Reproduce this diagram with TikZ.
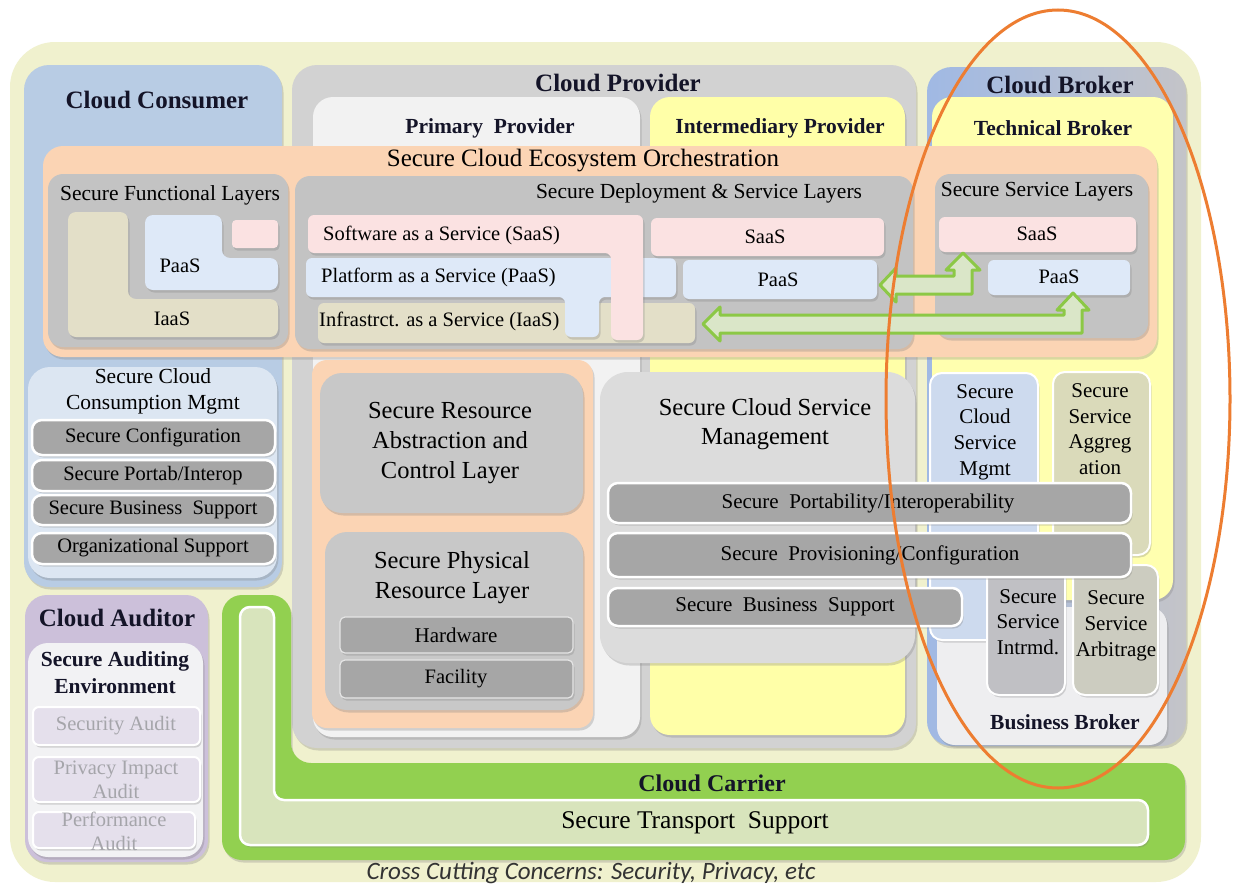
\documentclass[tikz,border=0pt]{standalone}
\usepackage{fontspec}
\setmainfont{Liberation Serif}
\newfontfamily\carlito{Carlito}
\usetikzlibrary{shadows}
\definecolor{bgy}{RGB}{240,241,206}
\definecolor{consblue}{RGB}{184,204,228}
\definecolor{provgrey}{RGB}{210,210,210}
\definecolor{brokblue}{RGB}{160,185,228}
\definecolor{brokgrey}{RGB}{196,196,200}
\definecolor{primw}{RGB}{242,242,242}
\definecolor{intyel}{RGB}{255,255,168}
\definecolor{tbyel}{RGB}{255,255,175}
\definecolor{bbgrey}{RGB}{238,238,240}
\definecolor{peach}{RGB}{251,212,180}
\definecolor{laygrey}{RGB}{195,195,195}
\definecolor{tanc}{RGB}{227,223,200}
\definecolor{ltblue}{RGB}{222,233,248}
\definecolor{pinkc}{RGB}{251,226,226}
\definecolor{ltbluetwo}{RGB}{220,230,242}
\definecolor{bargrey}{RGB}{166,166,166}
\definecolor{absgrey}{RGB}{200,200,200}
\definecolor{csmgrey}{RGB}{220,220,220}
\definecolor{ltbluethree}{RGB}{205,218,238}
\definecolor{olivec}{RGB}{218,218,186}
\definecolor{intrgrey}{RGB}{192,192,196}
\definecolor{arbgrey}{RGB}{204,204,192}
\definecolor{audpurple}{RGB}{204,192,218}
\definecolor{audwhite}{RGB}{242,242,244}
\definecolor{audlav}{RGB}{229,224,236}
\definecolor{audtext}{RGB}{165,165,170}
\definecolor{carrgreen}{RGB}{146,208,80}
\definecolor{transp}{RGB}{216,228,188}
\definecolor{arrfill}{RGB}{218,230,200}
\definecolor{arrgreen}{RGB}{140,200,70}
\definecolor{ellor}{RGB}{237,125,49}
\definecolor{ttlc}{RGB}{20,20,40}
\begin{document}
\begin{tikzpicture}[x=1pt,y=-1pt,
  shd/.style={drop shadow={shadow xshift=1.5pt,shadow yshift=-2.5pt,opacity=0.3}},
  sbar/.style={fill=bargrey,draw=white,line width=2.5pt,rounded corners=10pt,shd},
  hbar/.style={fill=bargrey,draw=white!80!gray,line width=1.2pt,rounded corners=5pt,shd},
  bbox/.style={draw=white,line width=2pt,rounded corners=12pt,shd},
  abox/.style={fill=audlav,draw=white,line width=2pt,rounded corners=6pt,shd},
  arr/.style={fill=arrfill,draw=arrgreen,line width=3pt,line join=round},
  txt/.style={font=\fontsize{20.5}{24}\selectfont,inner sep=0pt,align=center},
  ttl/.style={font=\fontsize{25}{28}\selectfont\bfseries,text=ttlc,inner sep=0pt,align=center},
  subttl/.style={font=\fontsize{21.5}{27}\selectfont\bfseries,text=ttlc,inner sep=0pt,align=center},
  hdr/.style={font=\fontsize{21.5}{26}\selectfont,inner sep=0pt,align=center},
  big/.style={font=\fontsize{24.5}{30}\selectfont,inner sep=0pt,align=center},
  brk/.style={font=\fontsize{21}{25.7}\selectfont,inner sep=0pt,align=center},
  aud/.style={font=\fontsize{20.5}{24}\selectfont,text=audtext,inner sep=0pt,align=center}]
\fill[white] (0,0) rectangle (1235,886);
\useasboundingbox (0,0) rectangle (1235,886);
\fill[bgy,rounded corners=45pt] (10,42) rectangle (1201,882);
% main actors
\path[fill=consblue,rounded corners=25pt,shd] (24,65) rectangle (282,587);
\path[fill=provgrey,rounded corners=25pt,shd] (292,65) rectangle (916,748);
\path[left color=brokblue,right color=brokgrey,rounded corners=25pt,shd] (927,67) rectangle (1186,746);
\path[fill=primw,rounded corners=20pt,shd] (313,97) rectangle (640,737);
\path[fill=intyel,rounded corners=20pt,shd] (650,97) rectangle (905,735);
\path[fill=tbyel,rounded corners=20pt,shd] (932,97) rectangle (1173,600);
\path[fill=bbgrey,rounded corners=18pt,shd] (937,607) rectangle (1167,745);
\node[ttl] (cc) at (157,100) {Cloud Consumer};
\node[ttl] (cp) at (618,83) {Cloud Provider};
\node[subttl] (pp) at (490,128) {Primary~ Provider};
\node[subttl] (ip) at (780,128) {Intermediary Provider};
\node[ttl] (cb) at (1060,85) {Cloud Broker};
\node[subttl] (tbk) at (1053,128) {Technical Broker};
\node[subttl] (bb) at (1065,722) {Business Broker};
% orchestration
\path[fill=peach,rounded corners=20pt,shd] (43,146) rectangle (1157,357);
\node[font=\fontsize{25}{28}\selectfont,inner sep=0pt] (orch) at (583,161) {Secure Cloud Ecosystem Orchestration};
% functional layers
\path[fill=laygrey,rounded corners=15pt,shd] (48,174) rectangle (288,347);
\path[fill=tanc,rounded corners=8pt,shd] (68,212) -- (128,212) -- (128,299) -- (278,299) -- (278,337) -- (68,337) -- cycle;
\path[fill=ltblue,rounded corners=8pt,shd] (145,215) -- (222,215) -- (222,258) -- (278,258) -- (278,290) -- (145,290) -- cycle;
\path[fill=pinkc,rounded corners=4pt,shd] (232,220) rectangle (278,248);
\node[hdr] (sfl) at (170,195) {Secure Functional Layers};
\node[txt] (paasa) at (180,266) {PaaS};
\node[txt] (iaasa) at (172,319) {IaaS};
% deployment
\path[fill=laygrey,rounded corners=15pt,shd] (295,176) rectangle (913,349);
\path[fill=tanc,rounded corners=6pt,shd] (318,303) rectangle (695,343);
\path[fill=ltblue,rounded corners=6pt,shd] (306,258) -- (676,258) -- (676,297) -- (599,297) -- (599,337) -- (565,337) -- (565,297) -- (306,297) -- cycle;
\path[fill=pinkc,rounded corners=6pt,shd] (308,215) -- (643,215) -- (643,340) -- (611,340) -- (611,253) -- (308,253) -- cycle;
\path[fill=pinkc,rounded corners=6pt,shd] (651,218) rectangle (884,256);
\path[fill=ltblue,rounded corners=6pt,shd] (683,260) rectangle (877,299);
\node[hdr] (sdsl) at (699,193) {Secure Deployment \& Service Layers};
\node[txt,anchor=west] (saasl) at (323,235) {Software as a Service (SaaS)};
\node[txt,anchor=west] (paasl) at (321,277) {Platform as a Service (PaaS)};
\node[txt,anchor=west] (iaasl) at (319,321) {Infrastrct. as a Service (IaaS)};
\node[txt] (saasb) at (765,237) {SaaS};
\node[txt] (paasb) at (778,280) {PaaS};
% service layers
\path[fill=laygrey,rounded corners=15pt,shd] (935,174) rectangle (1148,338);
\path[fill=pinkc,rounded corners=6pt,shd] (939,217) rectangle (1136,252);
\path[fill=ltblue,rounded corners=6pt,shd] (988,260) rectangle (1130,295);
\node[hdr] (ssl) at (1037,192) {Secure Service Layers};
\node[txt] (saasc) at (1037,234) {SaaS};
\node[txt] (paasc) at (1059,277) {PaaS};
% arrows
\path[arr] (880,285) -- (896,268) -- (896,276) -- (954,276) -- (954,270) -- (946,270) -- (963,253) -- (980,270) -- (972,270) -- (972,294) -- (896,294) -- (896,302) -- cycle;
\path[arr] (703,324) -- (720,307) -- (720,315) -- (1064,315) -- (1064,310) -- (1057,310) -- (1073,293) -- (1089,310) -- (1082,310) -- (1082,333) -- (720,333) -- (720,341) -- cycle;
% consumption mgmt
\path[fill=ltbluetwo,rounded corners=22pt,shd] (28,367) rectangle (277,578);
\node[hdr] (sccm) at (153,391) {Secure Cloud\\Consumption Mgmt};
\path[sbar] (32,420) rectangle (275,455);
\path[sbar] (32,460) rectangle (275,491);
\path[sbar] (32,495) rectangle (275,525);
\path[sbar] (32,533) rectangle (275,564);
\node[txt] (scfg) at (153,437) {Secure Configuration};
\node[txt] (spia) at (153,476) {Secure Portab/Interop};
\node[txt] (sbsa) at (153,510) {Secure Business~ Support};
\node[txt] (orgs) at (153,548) {Organizational Support};
% primary lower
\path[fill=peach,rounded corners=15pt,shd] (312,360) rectangle (593,728);
\path[fill=absgrey,rounded corners=22pt,shd] (320,373) rectangle (583,513);
\path[fill=absgrey,rounded corners=22pt,shd] (325,532) rectangle (583,710);
\path[hbar] (340,617) rectangle (573,653);
\path[hbar] (340,660) rectangle (573,698);
\node[big] (srac) at (450,443) {Secure Resource\\Abstraction and\\Control Layer};
\node[big] (sprl) at (452,578) {Secure Physical\\Resource Layer};
\node[txt,font=\fontsize{21}{24}\selectfont] (hw) at (456,635) {Hardware};
\node[txt] (fac) at (456,679) {Facility};
% cloud service management
\path[fill=csmgrey,rounded corners=28pt,shd] (600,372) rectangle (915,663);
\node[big,font=\fontsize{24.5}{29}\selectfont] (scsm) at (765,424) {Secure Cloud Service\\Management};
% broker boxes
\path[bbox,fill=ltbluethree] (930,373) rectangle (1038,640);
\path[bbox,fill=olivec] (1053,372) rectangle (1150,555);
\path[bbox,fill=intrgrey] (987,565) rectangle (1065,695);
\path[bbox,fill=arbgrey] (1073,565) rectangle (1158,695);
\node[brk] (bcsm) at (985,432) {Secure\\Cloud\\Service\\Mgmt};
\node[brk] (bagg) at (1100,429) {Secure\\Service\\Aggreg\\ation};
\node[brk] (bint) at (1028,622) {Secure\\Service\\Intrmd.};
\node[brk] (barb) at (1116,626) {Secure\\Service\\Arbitrage};
% bars
\path[sbar] (608,483) rectangle (1131,523);
\path[sbar] (608,533) rectangle (1131,577);
\path[sbar] (608,588) rectangle (962,626);
\node[txt,font=\fontsize{21}{24}\selectfont] (spo) at (868,503) {Secure~ Portability/Interoperability};
\node[txt,font=\fontsize{21}{24}\selectfont] (spc) at (870,555) {Secure~ Provisioning/Configuration};
\node[txt,font=\fontsize{21}{24}\selectfont] (sbsb) at (785,607) {Secure~ Business~ Support};
% auditor
\path[fill=audpurple,rounded corners=22pt,shd] (25,595) rectangle (208,862);
\path[fill=audwhite,rounded corners=20pt,shd] (28,643) rectangle (203,857);
\path[abox] (33,707) rectangle (200,745);
\path[abox] (33,757) rectangle (200,802);
\path[abox] (33,812) rectangle (195,848);
\node[ttl] (ca) at (117,618) {Cloud Auditor};
\node[subttl] (sae) at (115,673) {Secure Auditing\\Environment};
\node[aud] (sa) at (116,726) {Security Audit};
\node[aud] (pia) at (116,780) {Privacy Impact\\Audit};
\node[aud] (pa) at (114,831) {Performance\\Audit};
% carrier
\path[fill=carrgreen,rounded corners=20pt,shd] (222,595) -- (291,595) -- (291,763) -- (1185,763) -- (1185,860) -- (222,860) -- cycle;
\path[fill=transp,draw=white,line width=2.5pt,rounded corners=10pt,shd] (240,607) -- (274,607) -- (274,800) -- (1148,800) -- (1148,845) -- (240,845) -- cycle;
\node[ttl,font=\fontsize{24}{28}\selectfont\bfseries] (ccar) at (712,783) {Cloud Carrier};
\node[txt,font=\fontsize{25.5}{28}\selectfont] (sts) at (695,823) {Secure Transport~ Support};
% ellipse
\draw[ellor,line width=3pt] (1058,399) ellipse [x radius=172, y radius=389];
\node[font=\carlito\itshape\fontsize{25}{28}\selectfont,text=black!80,inner sep=0pt] (ccc) at (591,873) {Cross Cutting Concerns: Security, Privacy, etc};
\end{tikzpicture}
\end{document}
